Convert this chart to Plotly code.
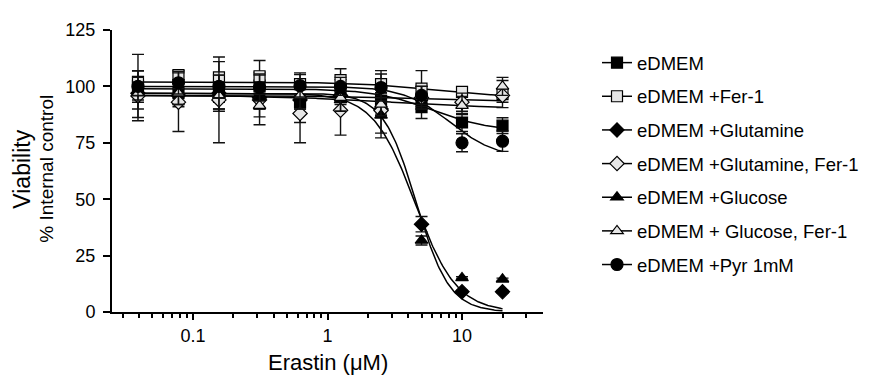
import numpy as np
import plotly.graph_objects as go

# ---- data ----
doses = [0.039, 0.078, 0.156, 0.3125, 0.625, 1.25, 2.5, 5, 10, 20]

names = ["eDMEM", "eDMEM +Fer-1", "eDMEM +Glutamine", "eDMEM +Glutamine, Fer-1",
         "eDMEM +Glucose", "eDMEM + Glucose, Fer-1", "eDMEM +Pyr 1mM"]

edmem_mean = [100.2, 97, 99, 100.3, 93, 98, 93.7, 90.8, 84, 82.6]
edmem_sd = [14, 6, 6, 6, 9, 5, 6, 5, 4, 3.5]
fer1_mean = [102, 105, 104, 104.5, 101, 102.8, 101, 99, 97.6, 96.6]
fer1_sd = [5, 2, 7, 7, 5, 5, 6, 8, 2, 6]
gln_mean = [97, 96, 97, 95, 94, 96, 90, 38.9, 9, 9]
gln_sd = [4, 3, 8, 5, 6, 4, 3, 3.4, 0.5, 0.5]
gln_fer1_mean = [95.8, 93, 94, 94, 88, 89.4, 89.3, 95, 93, 96]
gln_fer1_sd = [11, 13, 19, 11, 13, 11, 10, 5, 4, 3]
glc_mean = [98, 97, 96, 95, 95, 94, 87.2, 31.7, 15.1, 14.5]
glc_sd = [4, 5, 6, 5, 5, 5, 10, 2, 0.5, 0.5]
glc_fer1_mean = [97, 97, 96, 91.5, 96, 95, 92, 95, 91.5, 100]
glc_fer1_sd = [7, 5, 6, 5, 6, 6, 5, 5, 4, 4]
pyr_mean = [100, 101.6, 100, 99.5, 100.3, 100, 99.5, 96, 75, 75.7]
pyr_sd = [4, 5, 5, 6, 5, 4, 6, 4, 4, 4.5]

# 4-parameter logistic fit parameters (top, bottom, EC50, Hill) per series
fit_top = [99, 102, 97, 96, 97, 96, 100]
fit_bottom = [80, 95, 0, 90, 0, 93, 68]
fit_ec50 = [6, 6, 4.57, 3, 4.47, 5, 8.2]
fit_hill = [2, 1.5, 3.52, 1, 2.79, 1, 2.5]

means = [edmem_mean, fer1_mean, gln_mean, gln_fer1_mean, glc_mean, glc_fer1_mean, pyr_mean]
sds = [edmem_sd, fer1_sd, gln_sd, gln_fer1_sd, glc_sd, glc_fer1_sd, pyr_sd]

symbols = ["square", "square", "diamond", "diamond", "triangle-up", "triangle-up", "circle"]
fills = ["black", "#e6e6e6", "black", "#e6e6e6", "black", "#e6e6e6", "black"]
sizes = [11, 11, 11, 11, 11, 11, 12]

FONT = "Arial, Liberation Sans, sans-serif"

fig = go.Figure()

xs = np.logspace(np.log10(doses[0]), np.log10(doses[-1]), 300)
for i in range(len(names)):
    ys = fit_bottom[i] + (fit_top[i] - fit_bottom[i]) / (1 + (xs / fit_ec50[i]) ** fit_hill[i])
    fig.add_trace(go.Scatter(x=xs, y=ys, mode="lines", line=dict(color="black", width=1.5),
                             showlegend=False, hoverinfo="skip"))

for i in range(len(names)):
    fig.add_trace(go.Scatter(
        x=doses, y=means[i], mode="markers",
        marker=dict(symbol=symbols[i], size=sizes[i], color=fills[i],
                    line=dict(color="black", width=1.2)),
        error_y=dict(type="data", array=sds[i], visible=True, color="#111",
                     thickness=1.4, width=6),
        showlegend=False))

for i in range(len(names)):
    fig.add_trace(go.Scatter(
        x=[None], y=[None], mode="lines+markers", name=names[i], legendgroup=names[i],
        line=dict(color="black", width=1.5),
        marker=dict(symbol=symbols[i], size=sizes[i], color=fills[i],
                    line=dict(color="black", width=1.2))))

fig.update_layout(
    width=873, height=377,
    margin=dict(l=104, r=338, t=15, b=73),
    paper_bgcolor="white", plot_bgcolor="white",
    font=dict(family=FONT, size=18, color="black"),
    showlegend=True,
    legend=dict(x=1.1253, y=0.950, xanchor="left", yanchor="top",
                font=dict(size=18.5), tracegroupgap=6.6, bgcolor="rgba(0,0,0,0)"),
    xaxis=dict(type="log", range=[np.log10(0.025), np.log10(40)],
               tickvals=[0.1, 1, 10], ticktext=["0.1", "1", "10"],
               ticks="outside", ticklen=6, tickwidth=2, tickcolor="black",
               showline=True, linewidth=2, linecolor="black",
               showgrid=False, zeroline=False,
               minor=dict(ticks="outside", ticklen=4, tickwidth=2, tickcolor="black",
                          tickvals=[0.03, 0.04, 0.05, 0.06, 0.07, 0.08, 0.09,
                                    0.2, 0.3, 0.4, 0.5, 0.6, 0.7, 0.8, 0.9,
                                    2, 3, 4, 5, 6, 7, 8, 9, 20, 30]),
               tickfont=dict(size=18)),
    yaxis=dict(range=[0, 125], tickvals=[0, 25, 50, 75, 100, 125],
               ticks="outside", ticklen=7, tickwidth=2, tickcolor="black",
               showline=True, linewidth=2, linecolor="black",
               showgrid=False, zeroline=False, tickfont=dict(size=18),
               ticklabelstandoff=4),
    annotations=[
        dict(text="Viability", textangle=-90, xref="paper", yref="paper",
             x=-0.209, y=0.508, xanchor="center", yanchor="middle", showarrow=False,
             font=dict(size=23)),
        dict(text="% Internal control", textangle=-90, xref="paper", yref="paper",
             x=-0.151, y=0.508, xanchor="center", yanchor="middle", showarrow=False,
             font=dict(size=19)),
        dict(text="Erastin (μM)", xref="paper", yref="paper",
             x=0.5, y=-0.178, xanchor="center", yanchor="middle", showarrow=False,
             font=dict(size=22)),
    ],
)

fig.write_html("out.html")
